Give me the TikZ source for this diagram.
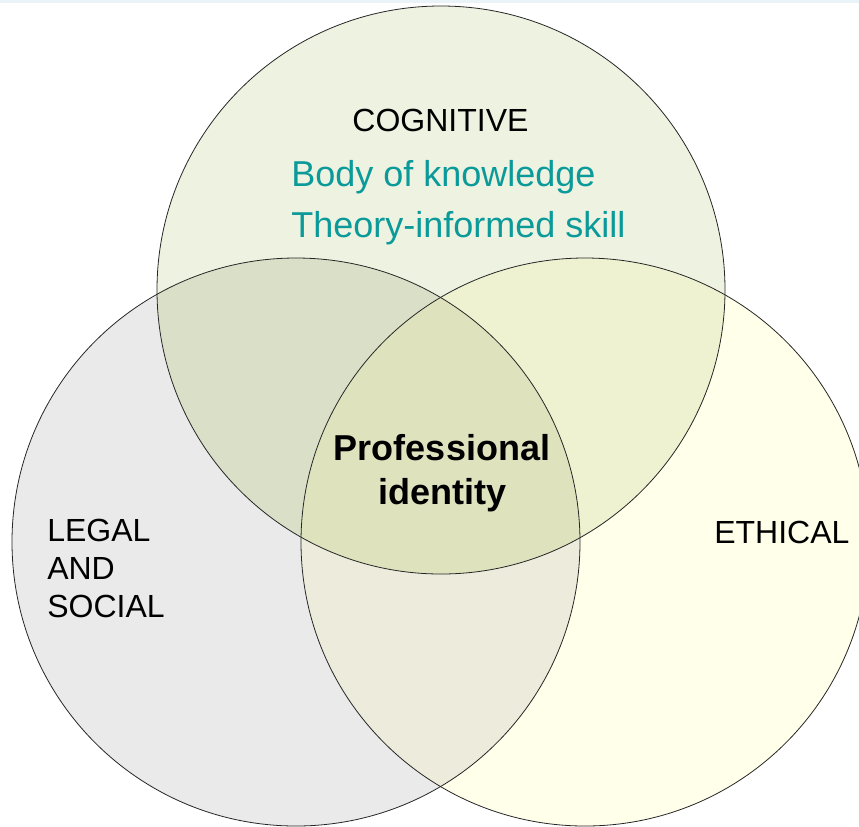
\documentclass[tikz,border=0pt]{standalone}
\usepackage{fontspec}
\setmainfont{Liberation Sans}

\definecolor{cogfill}{HTML}{EEF2E0}
\definecolor{legfill}{HTML}{EAEAEA}
\definecolor{ethfill}{HTML}{FFFFEA}
\definecolor{coglegfill}{HTML}{DAE0C8}
\definecolor{cogethfill}{HTML}{EEF2D0}
\definecolor{legethfill}{HTML}{EDEBDB}
\definecolor{corefill}{HTML}{DEE3BE}
\definecolor{skillteal}{HTML}{0B9A9A}
\definecolor{topband}{HTML}{EAF4F8}

% the three discs, px coordinates
\def\cogdisc{(441,290) circle[radius=213pt]}
\def\legdisc{(296,542) circle[radius=213pt]}
\def\ethdisc{(585,542) circle[radius=213pt]}

\begin{document}
\begin{tikzpicture}[x=0.75pt, y=-0.75pt,
	rim/.style={line width=0.6pt, draw=black!85},
	caption/.style={inner sep=0pt, font=\fontsize{24}{28.3}\selectfont},
	skill/.style={inner sep=0pt, text=skillteal, font=\fontsize{27}{32}\selectfont},
	core/.style={inner sep=0pt, align=center, font=\bfseries\fontsize{27}{33}\selectfont}]
	%%%%% START %%%%%
	
	\useasboundingbox (0,0) rectangle (859,826);
	\clip (0,0) rectangle (859,826);
	\fill[topband] (0,0) rectangle (859,3);
	
	% single discs
	\fill[legfill] \legdisc;
	\fill[ethfill] \ethdisc;
	\fill[cogfill] \cogdisc;
	
	% pairwise overlaps
	\begin{scope}
		\clip \cogdisc;
		\fill[coglegfill] \legdisc;
		\fill[cogethfill] \ethdisc;
	\end{scope}
	\begin{scope}
		\clip \legdisc;
		\fill[legethfill] \ethdisc;
	\end{scope}
	
	% centre where all three meet
	\begin{scope}
		\clip \cogdisc;
		\clip \legdisc;
		\fill[corefill] \ethdisc;
	\end{scope}
	
	\draw[rim] \legdisc;
	\draw[rim] \ethdisc;
	\draw[rim] \cogdisc;
	
	% labels
	\node[caption, anchor=base] (cognitive) at (440.5,131) {COGNITIVE};
	\node[skill, anchor=base west] (knowledge) at (291,186) {Body of knowledge};
	\node[skill, anchor=base west] (theory) at (291,237) {Theory-informed skill};
	\node[core] (identity) at (442,473) {Professional\\identity};
	\node[caption, align=left, anchor=north west] (legal) at (47,519) {LEGAL\\AND\\SOCIAL};
	\node[caption, anchor=base west] (ethical) at (714,543) {ETHICAL};
	
	%%%%% END %%%%%
\end{tikzpicture}
\end{document}
